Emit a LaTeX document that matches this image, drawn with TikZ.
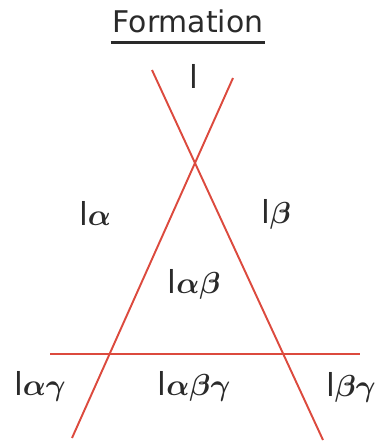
\documentclass[tikz,border=0pt]{standalone}
\usepackage{bm}
\usepackage{fontspec}
\setmainfont{DejaVu Sans}
\usepackage{xcolor}
\usepackage{tikz}
\usetikzlibrary{calc}
\definecolor{lineRed}{HTML}{DC4A3E}
\definecolor{inkGrey}{HTML}{2A2A2A}

\begin{document}
\begin{tikzpicture}[x=0.02cm, y=-0.02cm,
  every node/.style={font=\fontsize{18}{21}\selectfont, text=inkGrey, inner sep=1pt},
  phase/.style={line width=1.1pt, lineRed},
  region/.style={anchor=center}
]
  \useasboundingbox (0,0) rectangle (387,446);
  % ---- title ----
  \node[font=\fontsize{17}{20}\selectfont] (title) at (188,21) {Formation};
  \draw[line width=1.4pt, inkGrey] ($(title.south west)+(0,8)$) -- ($(title.south east)+(0,8)$);
  % ---- phase boundaries ----
  \coordinate (aTop) at (152,70);   \coordinate (aBot) at (323,440);
  \coordinate (bTop) at (233,78);   \coordinate (bBot) at (72,438);
  \coordinate (hL) at (50,354);     \coordinate (hR) at (360,354);
  \draw[phase] (aTop) -- (aBot);
  \draw[phase] (bTop) -- (bBot);
  \draw[phase] (hL) -- (hR);
  % ---- regions ----
  \node[region] (l)    at (194,76)  {l};
  \node[region] (la)   at (95,213)  {l$\bm{\alpha}$};
  \node[region] (lb)   at (276,214) {l$\bm{\beta}$};
  \node[region] (lab)  at (194,284) {l$\bm{\alpha\beta}$};
  \node[region] (lag)  at (40,386)  {l$\bm{\alpha\gamma}$};
  \node[region] (labg) at (194,386) {l$\bm{\alpha\beta\gamma}$};
  \node[region] (lbg)  at (351,387) {l$\bm{\beta\gamma}$};
\end{tikzpicture}
\end{document}
